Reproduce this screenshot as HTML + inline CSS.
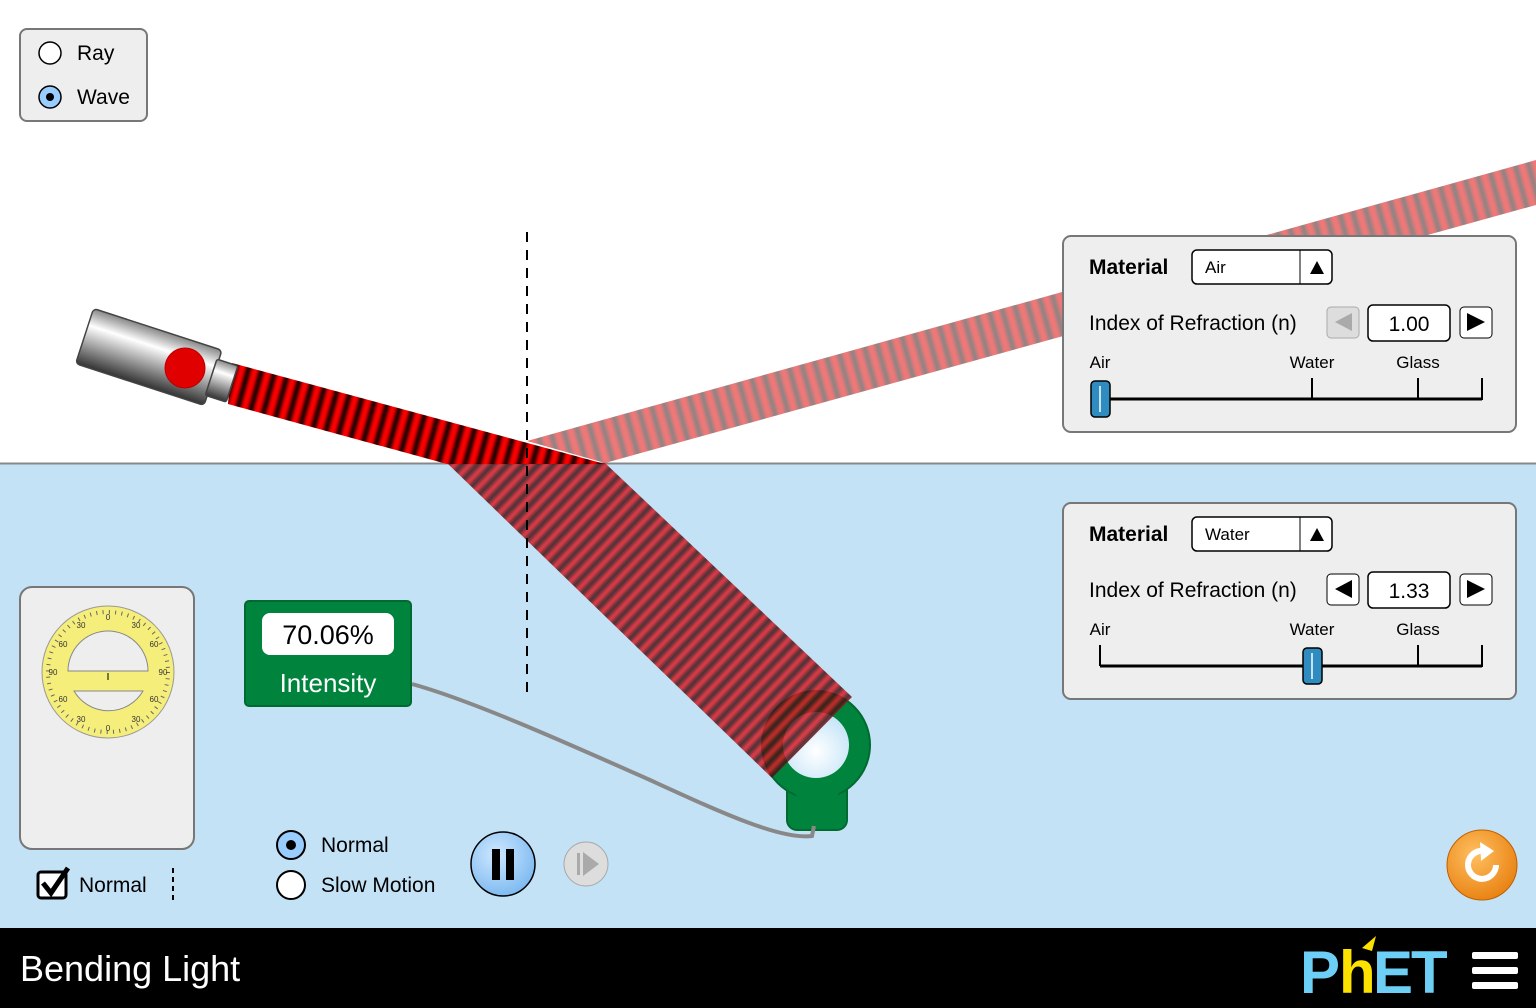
<!DOCTYPE html>
<html><head><meta charset="utf-8"><style>
html,body{margin:0;padding:0;width:1536px;height:1008px;overflow:hidden;background:#fff}
svg{display:block;font-family:"Liberation Sans",Arial,sans-serif}
</style></head><body>
<svg id="s" width="1536" height="1008" viewBox="0 0 1536 1008">
<defs>
 <linearGradient id="gLas" x1="0" y1="0" x2="0" y2="1"><stop offset="0" stop-color="#888"/><stop offset="0.3" stop-color="#fff"/><stop offset="1" stop-color="#333"/></linearGradient>
 <radialGradient id="gBtn" cx="0.4" cy="0.35" r="0.7"><stop offset="0" stop-color="#cfe8ff"/><stop offset="1" stop-color="#7ab8f0"/></radialGradient>
 <radialGradient id="gOr" cx="0.4" cy="0.35" r="0.7"><stop offset="0" stop-color="#ffc060"/><stop offset="1" stop-color="#e88010"/></radialGradient>
 <radialGradient id="gLens" cx="0.5" cy="0.6" r="0.6"><stop offset="0" stop-color="#fff"/><stop offset="1" stop-color="#c4e4f8"/></radialGradient>
 <filter id="blur" x="-10%" y="-10%" width="120%" height="120%"><feGaussianBlur stdDeviation="1.8"/></filter>
 <clipPath id="cRef"><polygon points="527,441 1536,160 1536,205 605,463"/></clipPath>
 <clipPath id="cRfr"><polygon points="447,463 605,463 852,697 772,778"/></clipPath>
 <clipPath id="cInc"><polygon points="232,363 605,464 447,464 228,404"/></clipPath>
</defs>

<rect x="0" y="463" width="1536" height="465" fill="#c4e2f6"/>
<line x1="0" y1="463.5" x2="1536" y2="463.5" stroke="#888" stroke-width="2"/>

<g>
 <rect x="787" y="780" width="60" height="50" rx="10" fill="#00843d" stroke="#006a30" stroke-width="2"/>
 <circle cx="816" cy="745" r="54" fill="#00843d" stroke="#006a30" stroke-width="2"/>
 <path d="M776,770 L800,800 L834,800 L856,770 Z" fill="#00843d"/>
 <circle cx="816" cy="745" r="33" fill="url(#gLens)"/>
</g>

<g id="beams"></g>

<line x1="527" y1="232" x2="527" y2="696" stroke="#000" stroke-width="2" stroke-dasharray="10,8"/>

<g transform="translate(232,384) rotate(18)">
 <rect x="-155" y="-29" width="135" height="58" rx="4" fill="url(#gLas)" stroke="#444" stroke-width="1.5"/>
 <rect x="-22" y="-19" width="22" height="38" rx="2" fill="url(#gLas)" stroke="#444" stroke-width="1.5"/>
</g>
<circle cx="185" cy="368" r="20" fill="#e00000" stroke="#b00"/>

<path d="M412,684 C470,700 560,740 650,780 C720,812 780,840 812,836 L814,826" fill="none" stroke="#888" stroke-width="4"/>

<rect x="245" y="601" width="166" height="105" rx="4" fill="#00843d" stroke="#006a30" stroke-width="2"/>
<rect x="262" y="613" width="132" height="42" rx="8" fill="#fff"/>
<text x="328" y="644" font-size="27" text-anchor="middle" fill="#000">70.06%</text>
<text x="328" y="692" font-size="26" text-anchor="middle" fill="#fff">Intensity</text>

<rect x="20" y="29" width="127" height="92" rx="7" fill="#eee" stroke="#777" stroke-width="2"/>
<circle cx="50" cy="53" r="11" fill="#fff" stroke="#000" stroke-width="1.5"/>
<text x="77" y="60" font-size="21">Ray</text>
<circle cx="50" cy="97" r="11" fill="#9cf" stroke="#000" stroke-width="1.5"/>
<circle cx="50" cy="97" r="4" fill="#000"/>
<text x="77" y="104" font-size="21">Wave</text>

<g>
 <rect x="1063" y="236" width="453" height="196" rx="8" fill="#eee" stroke="#777" stroke-width="2"/>
 <text x="1089" y="274" font-size="21" font-weight="bold">Material</text>
 <rect x="1192" y="250" width="140" height="34" rx="5" fill="#fff" stroke="#000" stroke-width="1.5"/>
 <line x1="1300" y1="250" x2="1300" y2="284" stroke="#000"/>
 <text x="1205" y="273" font-size="17">Air</text>
 <polygon points="1310,274 1317,261 1324,274" fill="#000"/>
 <text x="1089" y="330" font-size="21">Index of Refraction (n)</text>
 <rect x="1327" y="307" width="32" height="31" rx="4" fill="#ddd" stroke="#aaa"/>
 <polygon points="1352,313 1335,322 1352,331" fill="#aaa"/>
 <rect x="1368" y="305" width="82" height="36" rx="5" fill="#fff" stroke="#000" stroke-width="1.5"/>
 <text x="1409" y="331" font-size="21" text-anchor="middle">1.00</text>
 <rect x="1460" y="307" width="32" height="31" rx="4" fill="#fff" stroke="#000"/>
 <polygon points="1467,313 1485,322 1467,331" fill="#000"/>
 <text x="1100" y="368" font-size="17" text-anchor="middle">Air</text>
 <text x="1312" y="368" font-size="17" text-anchor="middle">Water</text>
 <text x="1418" y="368" font-size="17" text-anchor="middle">Glass</text>
 <line x1="1100" y1="399" x2="1482" y2="399" stroke="#000" stroke-width="3"/>
 <line x1="1312" y1="378" x2="1312" y2="399" stroke="#000" stroke-width="2"/>
 <line x1="1418" y1="378" x2="1418" y2="399" stroke="#000" stroke-width="2"/>
 <line x1="1482" y1="378" x2="1482" y2="400" stroke="#000" stroke-width="2"/>
 <rect x="1091" y="381" width="19" height="36" rx="4" fill="#2e8cc0" stroke="#000" stroke-width="1.5"/>
 <line x1="1100" y1="386" x2="1100" y2="412" stroke="#fff" stroke-width="1.5"/>
</g>
<g>
 <rect x="1063" y="503" width="453" height="196" rx="8" fill="#eee" stroke="#777" stroke-width="2"/>
 <text x="1089" y="541" font-size="21" font-weight="bold">Material</text>
 <rect x="1192" y="517" width="140" height="34" rx="5" fill="#fff" stroke="#000" stroke-width="1.5"/>
 <line x1="1300" y1="517" x2="1300" y2="551" stroke="#000"/>
 <text x="1205" y="540" font-size="17">Water</text>
 <polygon points="1310,541 1317,528 1324,541" fill="#000"/>
 <text x="1089" y="597" font-size="21">Index of Refraction (n)</text>
 <rect x="1327" y="574" width="32" height="31" rx="4" fill="#fff" stroke="#000"/>
 <polygon points="1352,580 1335,589 1352,598" fill="#000"/>
 <rect x="1368" y="572" width="82" height="36" rx="5" fill="#fff" stroke="#000" stroke-width="1.5"/>
 <text x="1409" y="598" font-size="21" text-anchor="middle">1.33</text>
 <rect x="1460" y="574" width="32" height="31" rx="4" fill="#fff" stroke="#000"/>
 <polygon points="1467,580 1485,589 1467,598" fill="#000"/>
 <text x="1100" y="635" font-size="17" text-anchor="middle">Air</text>
 <text x="1312" y="635" font-size="17" text-anchor="middle">Water</text>
 <text x="1418" y="635" font-size="17" text-anchor="middle">Glass</text>
 <line x1="1100" y1="666" x2="1482" y2="666" stroke="#000" stroke-width="3"/>
 <line x1="1100" y1="645" x2="1100" y2="666" stroke="#000" stroke-width="2"/>
 <line x1="1418" y1="645" x2="1418" y2="666" stroke="#000" stroke-width="2"/>
 <line x1="1482" y1="645" x2="1482" y2="667" stroke="#000" stroke-width="2"/>
 <rect x="1303" y="648" width="19" height="36" rx="4" fill="#2e8cc0" stroke="#000" stroke-width="1.5"/>
 <line x1="1312" y1="653" x2="1312" y2="679" stroke="#fff" stroke-width="1.5"/>
</g>

<rect x="20" y="587" width="174" height="262" rx="12" fill="#eee" stroke="#777" stroke-width="2"/>
<g>
 <circle cx="108" cy="672" r="66" fill="#f5ee7a" stroke="#999"/>
 <circle cx="108" cy="672" r="60" fill="none" stroke="#666" stroke-width="4" stroke-dasharray="1,5.3"/>
 <path d="M68,671 A40,40 0 0 1 148,671 Z" fill="#eee" stroke="#888"/>
 <path d="M74,691 L143,691 A40,40 0 0 1 74,691 Z" fill="#eee" stroke="#888"/>
 <line x1="108" y1="673" x2="108" y2="680" stroke="#000"/>
 <g font-size="8" text-anchor="middle" fill="#333">
  <text x="108" y="620">0</text><text x="108" y="731">0</text>
  <text x="81" y="628">30</text><text x="136" y="628">30</text>
  <text x="63" y="647">60</text><text x="154" y="647">60</text>
  <text x="53" y="675">90</text><text x="163" y="675">90</text>
  <text x="63" y="702">60</text><text x="154" y="702">60</text>
  <text x="81" y="722">30</text><text x="136" y="722">30</text>
 </g>
</g>
<rect x="38" y="872" width="28" height="26" rx="3" fill="#fff" stroke="#000" stroke-width="3"/>
<path d="M43,883 L51,893 L68,868" fill="none" stroke="#000" stroke-width="5"/>
<text x="79" y="892" font-size="21">Normal</text>
<line x1="173" y1="868" x2="173" y2="902" stroke="#000" stroke-width="2" stroke-dasharray="5,4"/>

<circle cx="291" cy="845" r="14" fill="#9cf" stroke="#000" stroke-width="2"/>
<circle cx="291" cy="845" r="5" fill="#000"/>
<text x="321" y="852" font-size="21">Normal</text>
<circle cx="291" cy="885" r="14" fill="#fff" stroke="#000" stroke-width="2"/>
<text x="321" y="892" font-size="21">Slow Motion</text>
<circle cx="503" cy="864" r="32" fill="url(#gBtn)" stroke="#000" stroke-width="1.5"/>
<rect x="492" y="849" width="8" height="31" fill="#000"/><rect x="506" y="849" width="8" height="31" fill="#000"/>
<circle cx="586" cy="864" r="22" fill="#ddd" stroke="#aaa"/>
<rect x="577" y="853" width="3" height="22" fill="#aaa"/><polygon points="583,852 599,864 583,876" fill="#aaa"/>

<circle cx="1482" cy="865" r="35" fill="url(#gOr)" stroke="#c06000"/>
<path d="M1496,865 A14,14 0 1 1 1484,851" fill="none" stroke="#fff" stroke-width="6"/>
<polygon points="1480,842 1494,851 1481,861" fill="#fff"/>

<rect x="0" y="928" width="1536" height="80" fill="#000"/>
<text x="20" y="981" font-size="36" fill="#fff">Bending Light</text>
<g font-weight="bold" font-size="60">
 <text x="1300" y="993" fill="#6dcff6">P</text>
 <text x="1339" y="993" fill="#fde200">h</text>
 <text x="1373" y="993" fill="#6dcff6" letter-spacing="-2">ET</text>
 <polygon points="1362,948 1376,936 1372,951" fill="#fde200"/>
</g>
<g fill="#fff">
 <rect x="1472" y="952" width="46" height="7" rx="2"/><rect x="1472" y="967" width="46" height="7" rx="2"/><rect x="1472" y="982" width="46" height="7" rx="2"/>
</g>
</svg>
<script>
var NS='http://www.w3.org/2000/svg';
var beamNames=['reflected-beam','refracted-beam','incident-beam'];
var beamClips=['cRef','cRfr','cInc'];
var beamBase=['#f06060','#e0202a','#ff0000'];
var beamDark=['#707070','#111111','#000000'];
var beamOpacity=[0.85,0.85,1];
var beamStart=[[540,438],[526,440],[232,384]];
var beamDir=[[0.963,-0.268],[0.72,0.69],[0.964,0.265]];
var beamLen=[1080,480,420];
var beamPeriod=[13,11,13];
var host=document.getElementById('beams');
for(var i=0;i<3;i++){
  var g=document.createElementNS(NS,'g');
  
  
  g.setAttribute('clip-path','url(#'+beamClips[i]+')');
  g.setAttribute('opacity',beamOpacity[i]);
  var r=document.createElementNS(NS,'rect');
  r.setAttribute('x',0);r.setAttribute('y',0);r.setAttribute('width',1536);r.setAttribute('height',928);
  r.setAttribute('fill',beamBase[i]);
  g.appendChild(r);
  var sg=document.createElementNS(NS,'g');
  sg.setAttribute('filter','url(#blur)');
  var d=beamDir[i],n=[-d[1],d[0]];
  for(var t=-40;t<beamLen[i];t+=beamPeriod[i]){
    var px=beamStart[i][0]+d[0]*t,py=beamStart[i][1]+d[1]*t;
    var l=document.createElementNS(NS,'line');
    l.setAttribute('x1',px-n[0]*120);l.setAttribute('y1',py-n[1]*120);
    l.setAttribute('x2',px+n[0]*120);l.setAttribute('y2',py+n[1]*120);
    l.setAttribute('stroke',beamDark[i]);
    l.setAttribute('stroke-width',beamPeriod[i]*0.38);
    sg.appendChild(l);
  }
  g.appendChild(sg);
  host.appendChild(g);
}
</script>
</body></html>
